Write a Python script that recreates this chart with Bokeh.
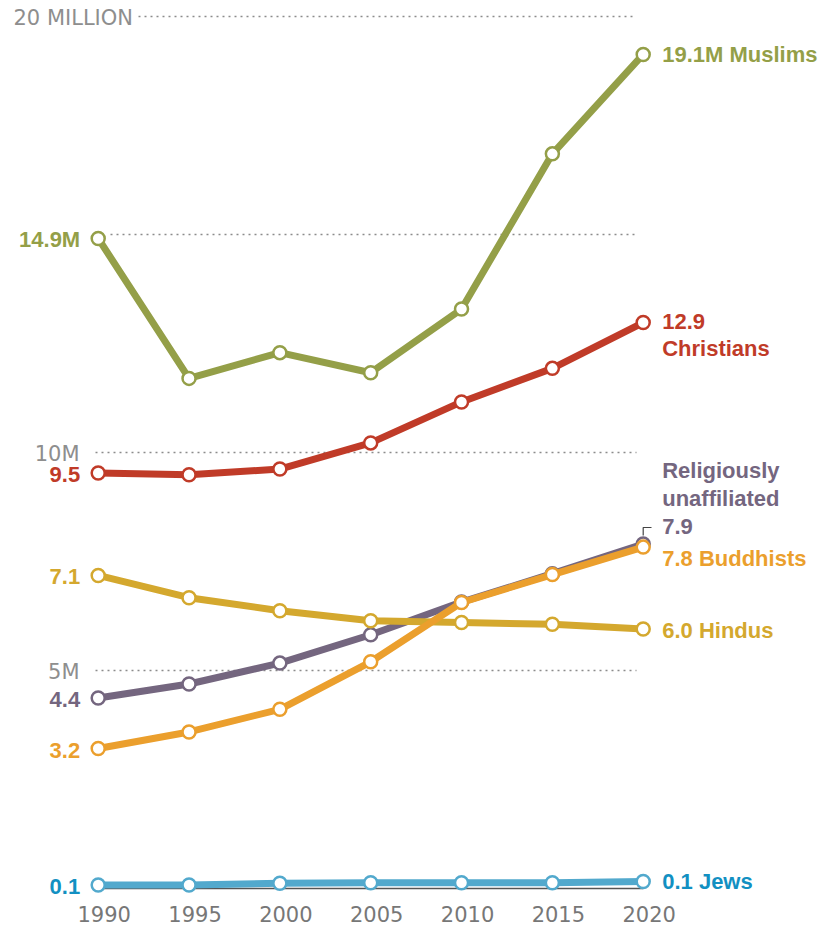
from bokeh.plotting import figure
from bokeh.models import Range1d
from bokeh.core.properties import value
from bokeh.embed import file_html
from bokeh.resources import INLINE

# ---------------- data ----------------
years = [1990, 1995, 2000, 2005, 2010, 2015, 2020]
muslims = [14.91, 11.70, 12.29, 11.83, 13.29, 16.85, 19.13]
christians = [9.53, 9.49, 9.62, 10.22, 11.16, 11.93, 12.98]
unaffiliated = [4.37, 4.69, 5.17, 5.82, 6.57, 7.22, 7.90]
buddhists = [3.21, 3.59, 4.11, 5.20, 6.56, 7.20, 7.83]
hindus = [7.18, 6.67, 6.37, 6.14, 6.10, 6.06, 5.95]
jews = [0.08, 0.08, 0.12, 0.13, 0.13, 0.13, 0.16]

grid_values = [5, 10, 15, 20]
grid_labels = ["5M", "10M", "", "20 MILLION"]
year_labels = ["1990", "1995", "2000", "2005", "2010", "2015", "2020"]

# ---------------- layout ----------------
W, H = 830, 926
PXX = 545.0 / 30.0          # px per year
PXY = 43.6                  # px per million
X0 = 1990 - 97.7 / PXX
Y_TOP = 888.0 / PXY

def xpx(px):
    return X0 + px / PXX

def ypx(px):
    return Y_TOP - px / PXY

p = figure(width=W, height=H, output_backend="svg", toolbar_location=None,
           x_axis_location=None, y_axis_location=None,
           x_range=Range1d(X0, X0 + W / PXX), y_range=Range1d(Y_TOP - H / PXY, Y_TOP),
           min_border=0, min_border_left=0, min_border_right=0,
           min_border_top=0, min_border_bottom=0)
p.outline_line_color = None
p.xgrid.visible = False
p.ygrid.visible = False
p.background_fill_color = "white"
p.border_fill_color = "white"

GREY_FONT = value("DejaVu Sans")
BOLD_FONT = value("Liberation Sans")

# gridlines
grid_start_px = [95, 95, 110, 138]
for gv, gs in zip(grid_values, grid_start_px):
    p.line([xpx(gs), xpx(636)], [gv, gv], line_color="#8c8c8c",
           line_width=1.5, line_dash="2 4")

# grey axis labels
for gv, gl in zip(grid_values, grid_labels):
    if not gl:
        continue
    if gl.startswith("20"):
        p.text(x=[xpx(13)], y=[gv], text=[gl], text_font=GREY_FONT,
               text_font_size="21px", text_color="#8e8e8e",
               text_align="left", text_baseline="middle", y_offset=1)
    else:
        p.text(x=[xpx(79)], y=[gv], text=[gl], text_font=GREY_FONT,
               text_font_size="21px", text_color="#8e8e8e",
               text_align="right", text_baseline="middle", y_offset=1)

# year labels
p.text(x=years, y=[ypx(913)] * len(years), text=year_labels, text_font=GREY_FONT,
       text_font_size="21px", text_color="#777777", text_align="center",
       text_baseline="middle", x_offset=6)

# baseline
p.line([years[0], years[-1]], [0, 0], line_color="#555555", line_width=1.5)

series = [
    ("unaffiliated", unaffiliated, "#74667f"),
    ("hindus", hindus, "#d4a82e"),
    ("buddhists", buddhists, "#eb9f2d"),
    ("christians", christians, "#c03b28"),
    ("muslims", muslims, "#949f48"),
    ("jews", jews, "#52a9cd"),
]
for name, vals, col in series:
    p.line(years, vals, line_color=col, line_width=7, line_join="round")
    p.scatter(years, vals, size=13, fill_color="white", line_color=col, line_width=2.5)

def lab(x, y, txt, col, align, xo, yo):
    p.text(x=[x], y=[y], text=[txt], text_font=BOLD_FONT, text_font_style="bold",
           text_font_size="22px", text_color=col, text_align=align,
           text_baseline="middle", x_offset=xo, y_offset=yo)

# left labels
lab(1990, muslims[0], "14.9M", "#949f48", "right", -18, 1)
lab(1990, christians[0], "9.5", "#c03b28", "right", -18, 2)
lab(1990, hindus[0], "7.1", "#d4a82e", "right", -18, 1)
lab(1990, unaffiliated[0], "4.4", "#74667f", "right", -18, 2)
lab(1990, buddhists[0], "3.2", "#eb9f2d", "right", -18, 2)
lab(1990, jews[0], "0.1", "#1290c2", "right", -18, 1)

# right labels
lab(2020, muslims[-1], "19.1M Muslims", "#949f48", "left", 19, 0)
lab(2020, christians[-1], "12.9", "#c03b28", "left", 19, -1)
lab(2020, christians[-1], "Christians", "#c03b28", "left", 19, 26)
lab(2020, unaffiliated[-1], "Religiously", "#74667f", "left", 19, -74)
lab(2020, unaffiliated[-1], "unaffiliated", "#74667f", "left", 19, -46)
lab(2020, unaffiliated[-1], "7.9", "#74667f", "left", 19, -18)
lab(2020, buddhists[-1], "7.8 Buddhists", "#eb9f2d", "left", 19, 11)
lab(2020, hindus[-1], "6.0 Hindus", "#d4a82e", "left", 19, 1)
lab(2020, jews[-1], "0.1 Jews", "#1290c2", "left", 19, 0)

# leader bracket for 7.9
p.line([2020, 2020, xpx(651)], [ypx(535), ypx(527), ypx(527)],
       line_color="#444444", line_width=1.2)

open("out.html", "w").write(file_html(p, INLINE))
